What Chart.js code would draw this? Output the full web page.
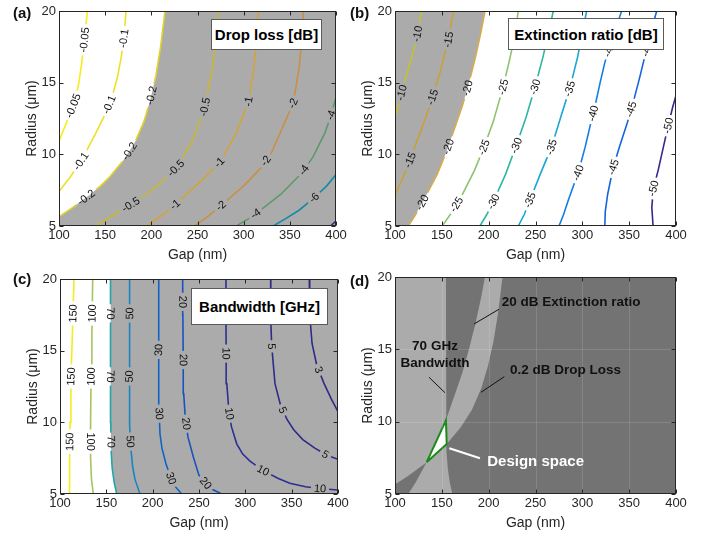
<!DOCTYPE html>
<html>
<head>
<meta charset="utf-8">
<script src="https://cdn.jsdelivr.net/npm/chart.js@4.4.1/dist/chart.umd.min.js"></script>
<style>
  body { margin: 0; background: #fff; font-family: "Liberation Sans", Arial, Helvetica, sans-serif; }
  #wrap { position: relative; width: 710px; height: 536px; overflow: hidden; }
  canvas { position: absolute; left: 0; top: 0; }
  .tag { position: absolute; font-weight: bold; font-size: 15px; line-height: 15px; color: #111; }
  .box { position: absolute; box-sizing: border-box; background: #fff; border: 1px solid #5a5a5a;
         display: flex; align-items: center; justify-content: center;
         font-weight: bold; font-size: 15px; color: #000; }
</style>
</head>
<body>
<div id="wrap">
  <canvas id="chartA" width="710" height="536"></canvas>
  <canvas id="chartB" width="710" height="536"></canvas>
  <canvas id="chartC" width="710" height="536"></canvas>
  <canvas id="chartD" width="710" height="536"></canvas>
  <div class="tag" style="left:13px;top:5px">(a)</div>
  <div class="tag" style="left:350px;top:5px">(b)</div>
  <div class="tag" style="left:13px;top:271px">(c)</div>
  <div class="tag" style="left:350px;top:273px">(d)</div>
  <div class="box" style="left:211px;top:19px;width:111px;height:31px">Drop loss [dB]</div>
  <div class="box" style="left:508px;top:18px;width:156px;height:32px">Extinction ratio [dB]</div>
  <div class="box" style="left:191px;top:288px;width:137px;height:37px">Bandwidth [GHz]</div>
</div>
<script>
// axes
const gapRange = [100, 400];
const radiusRange = [5, 20];
const gapTicks = [100, 150, 200, 250, 300, 350, 400];
const radiusTicks = [5, 10, 15, 20];

// (a) drop loss contours, [gap nm, radius um]
const dl005 = [[100, 10.9], [108, 12.2], [116, 13.5], [121, 14.8], [124.5, 16.3], [127.5, 18], [130.7, 20]];
const dl01 = [[100, 7.4], [112, 8.4], [124.5, 9.6], [140, 11.5], [150, 12.8], [157, 13.9], [163, 15.3], [167.5, 16.8], [170.5, 18.3], [172.6, 20]];
const dl02 = [[100, 5.65], [115, 6.3], [133.8, 7.2], [145, 7.8], [155.2, 8.45], [170, 9.6], [182, 10.8], [192, 12.3], [199, 13.8], [205, 15.5], [210, 17.5], [214.8, 20]];
const dl05 = [[139, 5], [160, 5.8], [188, 6.9], [210, 8], [227.5, 9.1], [245, 11], [258, 13.3], [266, 16], [270, 18], [272.6, 20]];
const dl1 = [[195, 5], [215, 5.9], [231, 6.8], [255, 8.2], [276, 9.6], [292, 11.5], [305, 13.6], [311, 16], [314, 18], [315.9, 20]];
const dl2 = [[247, 5], [262, 5.7], [275, 6.4], [300, 7.8], [318, 9], [330, 10.1], [343, 12], [353.8, 13.6], [360, 16], [363, 18], [364.6, 20]];
const dl4 = [[292, 5], [305, 5.5], [320, 6.2], [340, 7.2], [363, 8.7], [375, 9.8], [388, 11.5], [395, 12.8], [400, 14]];
const dl6 = [[332, 5], [345, 5.5], [360, 6.1], [375, 6.9], [390, 7.8], [400, 8.6]];
const dl8 = [[394, 5], [400, 5.35]];
// where the inline labels sit
const dl005At = [[126.3, 18], [119, 13.3]];
const dl01At = [[169.7, 18.1], [157, 13.4], [124.5, 9.5]];
const dl02At = [[200.4, 14.1], [176.9, 10.2], [130.7, 6.9]];
const dl05At = [[259.2, 13.3], [225.6, 9.1], [178.7, 6.4]];
const dl1At = [[303.9, 13.7], [272.6, 9.5], [225.6, 6.5]];
const dl2At = [[352, 13.6], [325, 9.5], [276.2, 6.35]];
const dl4At = [[396.4, 12.7], [367.5, 8.8], [315.9, 5.6]];
const dl6At = [[377.3, 6.9]];

// (b) extinction ratio contours
const er10 = [[100, 12.6], [104, 13.5], [110, 15], [118, 16.8], [124, 18.4], [128.5, 20]];
const er15 = [[100, 7.15], [108, 8.3], [116, 9.6], [125, 11.2], [133, 12.6], [140, 14], [148, 15.7], [157, 18], [162.3, 20]];
const er20 = [[114.2, 5], [122, 5.8], [133.8, 7.2], [145, 8.6], [154.4, 10.1], [163, 11.7], [172, 13.4], [179, 15], [186, 16.8], [192, 18.6], [196.1, 20]];
const er25 = [[150.5, 5], [160, 5.9], [172, 7.2], [185, 8.9], [195, 10.5], [205, 12.3], [215, 14.6], [222, 16.5], [228, 18.3], [231.6, 20]];
const er30 = [[190.7, 5], [198, 5.8], [205, 6.7], [218, 8.6], [230, 10.7], [240, 12.6], [249.5, 14.7], [258, 16.8], [264, 18.5], [269, 20]];
const er35 = [[231.6, 5], [238, 5.8], [244, 6.8], [255, 8.6], [267, 10.5], [277, 12.6], [287, 14.7], [295, 16.8], [300, 18.5], [304.6, 20]];
const er40 = [[275.1, 5], [280, 5.8], [285, 6.8], [296, 8.8], [303, 10.5], [308, 11.9], [314, 13.5], [319, 15], [324, 16.4], [335, 18.7], [342, 20]];
const er45 = [[324, 5], [324.5, 6], [327, 7.2], [333, 9.1], [340, 10.6], [348, 12.2], [355, 13.8], [361, 15.3], [367, 16.9], [373, 18.5], [379.4, 20]];
const er50 = [[375.5, 5], [374.2, 6.3], [375.8, 7.6], [381, 8.9], [386.5, 10.5], [392, 12.1], [396.5, 13.3], [400, 14.1]];
const er10At = [[124.9, 18.4], [107.1, 14.3]];
const er15At = [[157.6, 18], [139.9, 14], [116, 9.6]];
const er20At = [[178.3, 14.6], [158.7, 10.5], [130.2, 6.6]];
const er25At = [[215.6, 14.7], [194.3, 10.5], [165.8, 6.5]];
const er30At = [[249.5, 14.7], [229.9, 10.6], [204.9, 6.7]];
const er35At = [[285, 14.6], [267.3, 10.5], [244.1, 6.8]];
const er40At = [[326, 17.4], [309, 12.9], [295.7, 8.7]];
const er45At = [[367, 17.4], [354.4, 13.1], [333.1, 9.1]];
const er50At = [[377.6, 7.6], [391.8, 12]];

// (c) bandwidth contours
const bw150 = [[110.5, 5], [110.3, 7], [110.8, 10], [111.8, 13], [113.3, 16], [115.1, 20]];
const bw100 = [[136, 5], [134, 6], [133, 7.5], [133, 10], [133.5, 13], [134.4, 16], [135.3, 20]];
const bw70 = [[161.2, 5], [158.5, 5.8], [156.3, 6.8], [155.2, 8], [154.8, 10], [154.6, 13], [154.5, 16], [154.4, 20]];
const bw50 = [[186.3, 5], [181, 6], [178.4, 6.9], [176, 8.5], [175, 10], [174.8, 13], [175, 16], [175.5, 20]];
const bw30 = [[231.3, 5], [222, 5.7], [214.4, 7.1], [210, 8.2], [207.9, 9.2], [206.8, 11], [206.4, 13], [206.4, 15], [206.6, 17], [206.8, 20]];
const bw20 = [[274.5, 5], [262, 5.4], [250, 6.3], [243.8, 7.6], [238, 9], [235, 10.5], [233.5, 12], [233, 14], [232.6, 17.5], [232.4, 20]];
const bw10 = [[400, 5.28], [380, 5.38], [365, 5.5], [348, 5.75], [335, 6.1], [319, 6.65], [305, 7.3], [297, 7.8], [290.7, 8.5], [285, 9.7], [282, 11], [280, 12.7], [279.3, 14.8], [279.1, 17], [279.1, 20]];
const bw5 = [[327.3, 20], [327.5, 17], [328.5, 15.3], [332, 12.7], [338, 11.2], [345, 10.2], [352, 9.5], [362, 8.8], [375, 8.2], [388, 7.7], [400, 7.42]];
const bw3 = [[369, 20], [369.5, 17.5], [372, 15.5], [377, 14], [385, 12.7], [393, 11.6], [400, 10.74]];
const bw150At = [[115, 17.6], [112, 13.2], [110.5, 8.65]];
const bw100At = [[135, 17.6], [133.5, 13.2], [133, 8.65]];
const bw70At = [[154.5, 17.6], [154.6, 13.2], [155.1, 8.65]];
const bw50At = [[175.3, 17.6], [174.8, 13.2], [175.8, 8.65]];
const bw30At = [[206.4, 15.05], [207, 10.6], [220.5, 6.1]];
const bw20At = [[232.5, 18.4], [233, 14.35], [235.5, 9.9], [257.2, 5.75]];
const bw10At = [[279.1, 14.8], [283, 10.6], [319.4, 6.67], [380.6, 5.4]];
const bw5At = [[328, 15.3], [340.3, 10.86], [386, 7.72]];
const bw3At = [[378.8, 13.65]];

// (d) design space corners
const designSpace = [[133.8, 7.2], [154.4, 10.1], [155.2, 8.45], [133.8, 7.2]];

const FONT = '"Liberation Sans", Arial, Helvetica, sans-serif';
const LABEL_FONT = '11px ' + FONT;
const SHADE = 'rgba(0,0,0,0.33)';
const AXIS = '#262626';

const dlColors = { '-0.05': '#f3ee1c', '-0.1': '#ece126', '-0.2': '#e2d22c', '-0.5': '#c8b634', '-1': '#d0a43c',
                   '-2': '#c88f48', '-4': '#5b9a6c', '-6': '#138aa6', '-8': '#30298a' };
const erColors = { '-10': '#c3c12e', '-15': '#c99f3a', '-20': '#d6ac4e', '-25': '#8cc46e', '-30': '#2db6a3',
                   '-35': '#19a6d5', '-40': '#137de6', '-45': '#1566de', '-50': '#34298c' };
const bwColors = { '150': '#f2ed1e', '100': '#a6c35e', '70': '#20a6a8', '50': '#1b84c0', '30': '#1062c8',
                   '20': '#1753bc', '10': '#2b2f8e', '5': '#2d2b87', '3': '#2f2a84' };

Chart.defaults.font.family = FONT;
Chart.defaults.color = AXIS;

const toXY = arr => arr.map(([x, y]) => ({ x, y }));

function contour(arr, color, width) {
  return { data: toXY(arr), borderColor: color, borderWidth: width || 1.6, pointRadius: 0,
           fill: false, tension: 0, order: 1 };
}

function region(arr, fill) {
  return { data: toXY(arr), borderColor: 'transparent', borderWidth: 1, backgroundColor: SHADE,
           pointRadius: 0, fill, tension: 0, order: 5 };
}

// inline contour labels: cut a gap in the line, then write the value along it
function makeLabels(defs) {
  const placed = {};
  return {
    id: 'contourLabels',
    beforeDatasetDraw(chart, args) {
      const def = defs.find(d => d.ds === args.index);
      if (!def || !def.at.length) return;
      const ctx = chart.ctx;
      const xs = chart.scales.x, ys = chart.scales.y;
      const pts = args.meta.data;
      ctx.font = LABEL_FONT;
      const w = ctx.measureText(def.text).width;
      const list = def.at.map(([g, r]) => {
        const px = xs.getPixelForValue(g), py = ys.getPixelForValue(r);
        let best = null;
        for (let i = 0; i < pts.length - 1; i++) {
          const a = pts[i], b = pts[i + 1];
          const dx = b.x - a.x, dy = b.y - a.y;
          const len2 = dx * dx + dy * dy || 1;
          const t = Math.max(0, Math.min(1, ((px - a.x) * dx + (py - a.y) * dy) / len2));
          const qx = a.x + t * dx, qy = a.y + t * dy;
          const d = (qx - px) ** 2 + (qy - py) ** 2;
          if (!best || d < best.d) best = { d, x: qx, y: qy, ang: dx === 0 ? Math.PI / 2 : Math.atan(dy / dx) };
        }
        return best;
      });
      placed[args.index] = { text: def.text, list };
      ctx.save();
      ctx.beginPath();
      ctx.rect(0, 0, chart.width, chart.height);
      list.forEach(b => {
        const c = Math.cos(b.ang), s = Math.sin(b.ang);
        const hw = w / 2 + 3, hh = 6.5;
        const cs = [[-hw, -hh], [hw, -hh], [hw, hh], [-hw, hh]].map(([u, v]) => [b.x + u * c - v * s, b.y + u * s + v * c]);
        ctx.moveTo(cs[0][0], cs[0][1]);
        for (let k = 1; k < 4; k++) ctx.lineTo(cs[k][0], cs[k][1]);
        ctx.closePath();
      });
      ctx.clip('evenodd');
    },
    afterDatasetDraw(chart, args) {
      if (placed[args.index]) chart.ctx.restore();
    },
    afterDatasetsDraw(chart) {
      const ctx = chart.ctx;
      ctx.save();
      ctx.font = LABEL_FONT;
      ctx.fillStyle = '#111';
      ctx.textAlign = 'center';
      ctx.textBaseline = 'middle';
      Object.values(placed).forEach(({ text, list }) => list.forEach(b => {
        ctx.save();
        ctx.translate(b.x, b.y);
        ctx.rotate(b.ang);
        ctx.fillText(text, 0, 0.5);
        ctx.restore();
      }));
      ctx.restore();
    }
  };
}

// MATLAB style box with inward ticks on all four sides
const frame = {
  id: 'frame',
  afterDraw(chart) {
    const { ctx, chartArea: a, scales: { x, y } } = chart;
    const L = Math.round(a.left) + 0.5, R = Math.round(a.right) - 0.5;
    const T = Math.round(a.top) + 0.5, B = Math.round(a.bottom) - 0.5;
    ctx.save();
    ctx.strokeStyle = AXIS;
    ctx.lineWidth = 1;
    ctx.strokeRect(L, T, R - L, B - T);
    ctx.beginPath();
    gapTicks.forEach(v => {
      const p = Math.round(x.getPixelForValue(v)) + 0.5;
      ctx.moveTo(p, B); ctx.lineTo(p, B - 4);
      ctx.moveTo(p, T); ctx.lineTo(p, T + 4);
    });
    radiusTicks.forEach(v => {
      const p = Math.round(y.getPixelForValue(v)) + 0.5;
      ctx.moveTo(L, p); ctx.lineTo(L + 4, p);
      ctx.moveTo(R, p); ctx.lineTo(R - 4, p);
    });
    ctx.stroke();
    ctx.restore();
  }
};

// panel (d): faint grid, pointer lines and captions
function makeNotes(lines, texts) {
  return {
    id: 'notes',
    afterDatasetsDraw(chart) {
      const { ctx, chartArea: a, scales: { x, y } } = chart;
      ctx.save();
      ctx.strokeStyle = 'rgba(255,255,255,0.12)';
      ctx.lineWidth = 1;
      ctx.beginPath();
      gapTicks.slice(1, -1).forEach(v => {
        const p = Math.round(x.getPixelForValue(v)) + 0.5;
        ctx.moveTo(p, a.top); ctx.lineTo(p, a.bottom);
      });
      radiusTicks.slice(1, -1).forEach(v => {
        const p = Math.round(y.getPixelForValue(v)) + 0.5;
        ctx.moveTo(a.left, p); ctx.lineTo(a.right, p);
      });
      ctx.stroke();
      lines.forEach(l => {
        ctx.strokeStyle = l.color;
        ctx.lineWidth = l.width;
        ctx.beginPath();
        ctx.moveTo(x.getPixelForValue(l.from[0]), y.getPixelForValue(l.from[1]));
        ctx.lineTo(x.getPixelForValue(l.to[0]), y.getPixelForValue(l.to[1]));
        ctx.stroke();
      });
      ctx.textBaseline = 'middle';
      texts.forEach(t => {
        ctx.font = 'bold ' + t.size + 'px ' + FONT;
        ctx.fillStyle = t.color;
        ctx.textAlign = t.align;
        ctx.fillText(t.text, x.getPixelForValue(t.at[0]), y.getPixelForValue(t.at[1]));
      });
      ctx.restore();
    }
  };
}

function options(area) {
  // area = plot rectangle in page pixels: left, top, right, bottom
  const yWidth = 35, xHeight = 38;
  return {
    responsive: false,
    animation: false,
    devicePixelRatio: 1,
    events: [],
    layout: { padding: { left: area[0] - yWidth, top: area[1], right: 710 - area[2], bottom: 536 - area[3] - xHeight } },
    plugins: { legend: { display: false }, tooltip: { enabled: false } },
    scales: {
      x: {
        type: 'linear', min: gapRange[0], max: gapRange[1],
        ticks: { stepSize: 50, color: AXIS, font: { size: 13 }, padding: 2, maxRotation: 0, autoSkip: false },
        grid: { display: false, drawTicks: false },
        border: { display: false },
        title: { display: true, text: 'Gap (nm)', color: AXIS, font: { size: 14 }, padding: 0 },
        afterFit: s => { s.height = xHeight; }
      },
      y: {
        type: 'linear', min: radiusRange[0], max: radiusRange[1],
        ticks: { stepSize: 5, color: AXIS, font: { size: 13 }, padding: 3 },
        grid: { display: false, drawTicks: false },
        border: { display: false },
        title: { display: true, text: 'Radius (μm)', color: AXIS, font: { size: 14 }, padding: 0 },
        afterFit: s => { s.width = yWidth; }
      }
    }
  };
}

function build(lines, colors) {
  const datasets = [], defs = [];
  lines.forEach(([arr, text, at]) => {
    datasets.push(contour(arr, colors[text]));
    defs.push({ ds: datasets.length - 1, text, at });
  });
  return { datasets, defs };
}

// (a) Drop loss
(function () {
  const { datasets, defs } = build([
    [dl005, '-0.05', dl005At], [dl01, '-0.1', dl01At], [dl02, '-0.2', dl02At], [dl05, '-0.5', dl05At],
    [dl1, '-1', dl1At], [dl2, '-2', dl2At], [dl4, '-4', dl4At], [dl6, '-6', dl6At], [dl8, '-8', []]
  ], dlColors);
  datasets.push(region(dl02.concat([[400, 20]]), 'start'));
  new Chart(document.getElementById('chartA'), {
    type: 'line',
    data: { datasets },
    options: options([59, 11, 336, 226]),
    plugins: [makeLabels(defs), frame]
  });
})();

// (b) Extinction ratio
(function () {
  const { datasets, defs } = build([
    [er10, '-10', er10At], [er15, '-15', er15At], [er20, '-20', er20At], [er25, '-25', er25At], [er30, '-30', er30At],
    [er35, '-35', er35At], [er40, '-40', er40At], [er45, '-45', er45At], [er50, '-50', er50At]
  ], erColors);
  datasets.push(region([[100, 5]].concat(er20), 'end'));
  new Chart(document.getElementById('chartB'), {
    type: 'line',
    data: { datasets },
    options: options([395, 11, 676, 226]),
    plugins: [makeLabels(defs), frame]
  });
})();

// (c) Bandwidth
(function () {
  const { datasets, defs } = build([
    [bw150, '150', bw150At], [bw100, '100', bw100At], [bw70, '70', bw70At], [bw50, '50', bw50At], [bw30, '30', bw30At],
    [bw20, '20', bw20At], [bw10, '10', bw10At], [bw5, '5', bw5At], [bw3, '3', bw3At]
  ], bwColors);
  datasets.push(region(bw70.slice().reverse().concat([[400, 5]]), 'end'));
  new Chart(document.getElementById('chartC'), {
    type: 'line',
    data: { datasets },
    options: options([60, 279, 338, 494]),
    plugins: [makeLabels(defs), frame]
  });
})();

// (d) Combined design space
(function () {
  const datasets = [
    { data: toXY(designSpace), borderColor: '#1b8a1b', borderWidth: 2, backgroundColor: '#ffffff',
      pointRadius: 0, fill: 'shape', tension: 0, order: 0 },
    region(dl02.concat([[400, 20]]), 'start'),
    region([[100, 5]].concat(er20), 'end'),
    region(bw70.slice().reverse().concat([[400, 5]]), 'end')
  ];
  const notes = makeNotes([
    { from: [211, 17.77], to: [184.3, 16.75], color: '#111', width: 1 },
    { from: [136.3, 13.07], to: [153.4, 12.0], color: '#111', width: 1 },
    { from: [216.7, 13.11], to: [191.8, 12.03], color: '#111', width: 1 },
    { from: [158, 8.16], to: [190.7, 7.47], color: '#ffffff', width: 2 }
  ], [
    { text: '20 dB Extinction ratio', at: [213.9, 18.27], align: 'left', size: 13.5, color: '#111' },
    { text: '70 GHz', at: [142.7, 15.18], align: 'center', size: 13.5, color: '#111' },
    { text: 'Bandwidth', at: [142.7, 14.03], align: 'center', size: 13.5, color: '#111' },
    { text: '0.2 dB Drop Loss', at: [222.8, 13.57], align: 'left', size: 13.5, color: '#111' },
    { text: 'Design space', at: [198.5, 7.23], align: 'left', size: 15, color: '#ffffff' }
  ]);
  new Chart(document.getElementById('chartD'), {
    type: 'line',
    data: { datasets },
    options: options([395, 277, 676, 494]),
    plugins: [notes, frame]
  });
})();
</script>
</body>
</html>
